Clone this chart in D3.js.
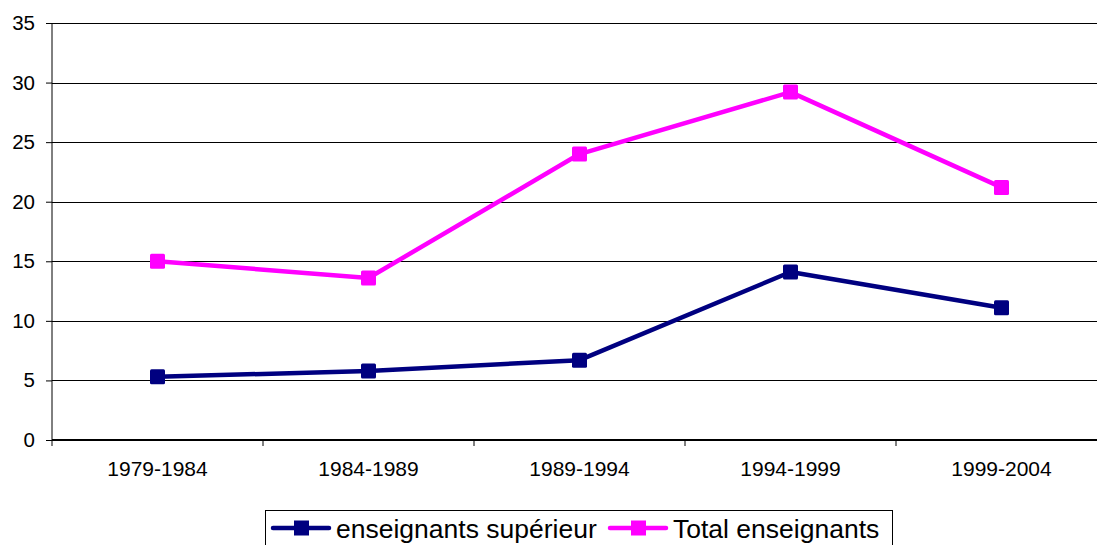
<!DOCTYPE html>
<html>
<head>
<meta charset="utf-8">
<script src="https://cdn.jsdelivr.net/npm/d3@7"></script>
<style>
  body { margin: 0; background: #fff; }
  text { font-family: "Liberation Sans", Arial, sans-serif; fill: #000; }
  .axis path, .axis line { stroke: #000; }
</style>
</head>
<body>
<div id="chart"></div>
<script>
// data
var periods = ["1979-1984", "1984-1989", "1989-1994", "1994-1999", "1999-2004"];
var superieur = [5.3, 5.8, 6.7, 14.1, 11.1];
var total = [15.0, 13.6, 24.0, 29.2, 21.2];
var yTicks = [0, 5, 10, 15, 20, 25, 30, 35];
var seriesNames = ["enseignants supérieur", "Total enseignants"];
var seriesColors = ["#000080", "#FF00FF"];

var width = 1097, height = 545;
var plotLeft = 52, plotTop = 23, plotBottom = 440, plotRight = 1107;

var svg = d3.select("#chart")
    .append("svg")
    .attr("width", width)
    .attr("height", height);

var xScale = d3.scaleBand().domain(periods).range([plotLeft, plotRight]);
var yScale = d3.scaleLinear().domain([0, 35]).range([plotBottom, plotTop]);

// gridlines
svg.append("g")
    .selectAll("line")
    .data(yTicks.slice(1))
    .enter().append("line")
    .attr("x1", plotLeft)
    .attr("x2", plotRight)
    .attr("y1", function(d) { return Math.round(yScale(d)) + 0.5; })
    .attr("y2", function(d) { return Math.round(yScale(d)) + 0.5; })
    .attr("stroke", "#000")
    .attr("stroke-width", 1);

// y axis
var yAxis = d3.axisLeft(yScale)
    .tickValues(yTicks)
    .tickSize(6)
    .tickPadding(11);

svg.append("g")
    .attr("class", "axis axis--y")
    .attr("transform", "translate(" + plotLeft + ",0)")
    .call(yAxis)
    .call(function(g) { g.select(".domain").attr("d", "M0," + plotTop + "V" + plotBottom); })
    .selectAll("text")
    .style("font-size", "20.5px");

// x axis (labels only, ticks at band boundaries)
var xAxis = d3.axisBottom(xScale).tickSize(0).tickPadding(21);

var gx = svg.append("g")
    .attr("class", "axis axis--x")
    .attr("transform", "translate(0," + plotBottom + ")")
    .call(xAxis);
gx.select(".domain").remove();
gx.selectAll("text").style("font-size", "21px");

var bounds = periods.map(function(p) { return xScale(p); });
bounds.push(plotRight);
gx.selectAll("line.bound")
    .data(bounds)
    .enter().append("line")
    .attr("class", "bound")
    .attr("x1", function(d) { return d; })
    .attr("x2", function(d) { return d; })
    .attr("y1", 0)
    .attr("y2", 6)
    .attr("stroke", "#000");

svg.append("line")
    .attr("x1", plotLeft)
    .attr("x2", plotRight)
    .attr("y1", plotBottom)
    .attr("y2", plotBottom)
    .attr("stroke", "#000")
    .attr("stroke-width", 2);

// lines
var line = d3.line()
    .x(function(d, i) { return xScale(periods[i]) + xScale.bandwidth() / 2; })
    .y(function(d) { return yScale(d); });

[superieur, total].forEach(function(values, k) {
    svg.append("path")
        .datum(values)
        .attr("fill", "none")
        .attr("stroke", seriesColors[k])
        .attr("stroke-width", 4.5)
        .attr("stroke-linejoin", "round")
        .attr("d", line);

    svg.append("g")
        .selectAll("rect")
        .data(values)
        .enter().append("rect")
        .attr("x", function(d, i) { return xScale(periods[i]) + xScale.bandwidth() / 2 - 7.5; })
        .attr("y", function(d) { return yScale(d) - 7.5; })
        .attr("width", 15)
        .attr("height", 15)
        .attr("rx", 1.5)
        .attr("fill", seriesColors[k]);
});

// legend
var legend = svg.append("g");
legend.append("rect")
    .attr("x", 265.5)
    .attr("y", 510.5)
    .attr("width", 627)
    .attr("height", 60)
    .attr("fill", "#fff")
    .attr("stroke", "#000")
    .attr("stroke-width", 1);

var legendX = [273, 610];
seriesNames.forEach(function(name, k) {
    var g = legend.append("g").attr("transform", "translate(" + legendX[k] + ",528)");
    g.append("line")
        .attr("x1", 0).attr("x2", 56)
        .attr("y1", 0).attr("y2", 0)
        .attr("stroke", seriesColors[k])
        .attr("stroke-width", 4.5)
        .attr("stroke-linecap", "round");
    g.append("rect")
        .attr("x", 21).attr("y", -7.5)
        .attr("width", 15).attr("height", 15)
        .attr("fill", seriesColors[k]);
    g.append("text")
        .attr("x", 63)
        .attr("y", 10)
        .style("font-size", "26.5px")
        .text(name);
});
</script>
</body>
</html>
